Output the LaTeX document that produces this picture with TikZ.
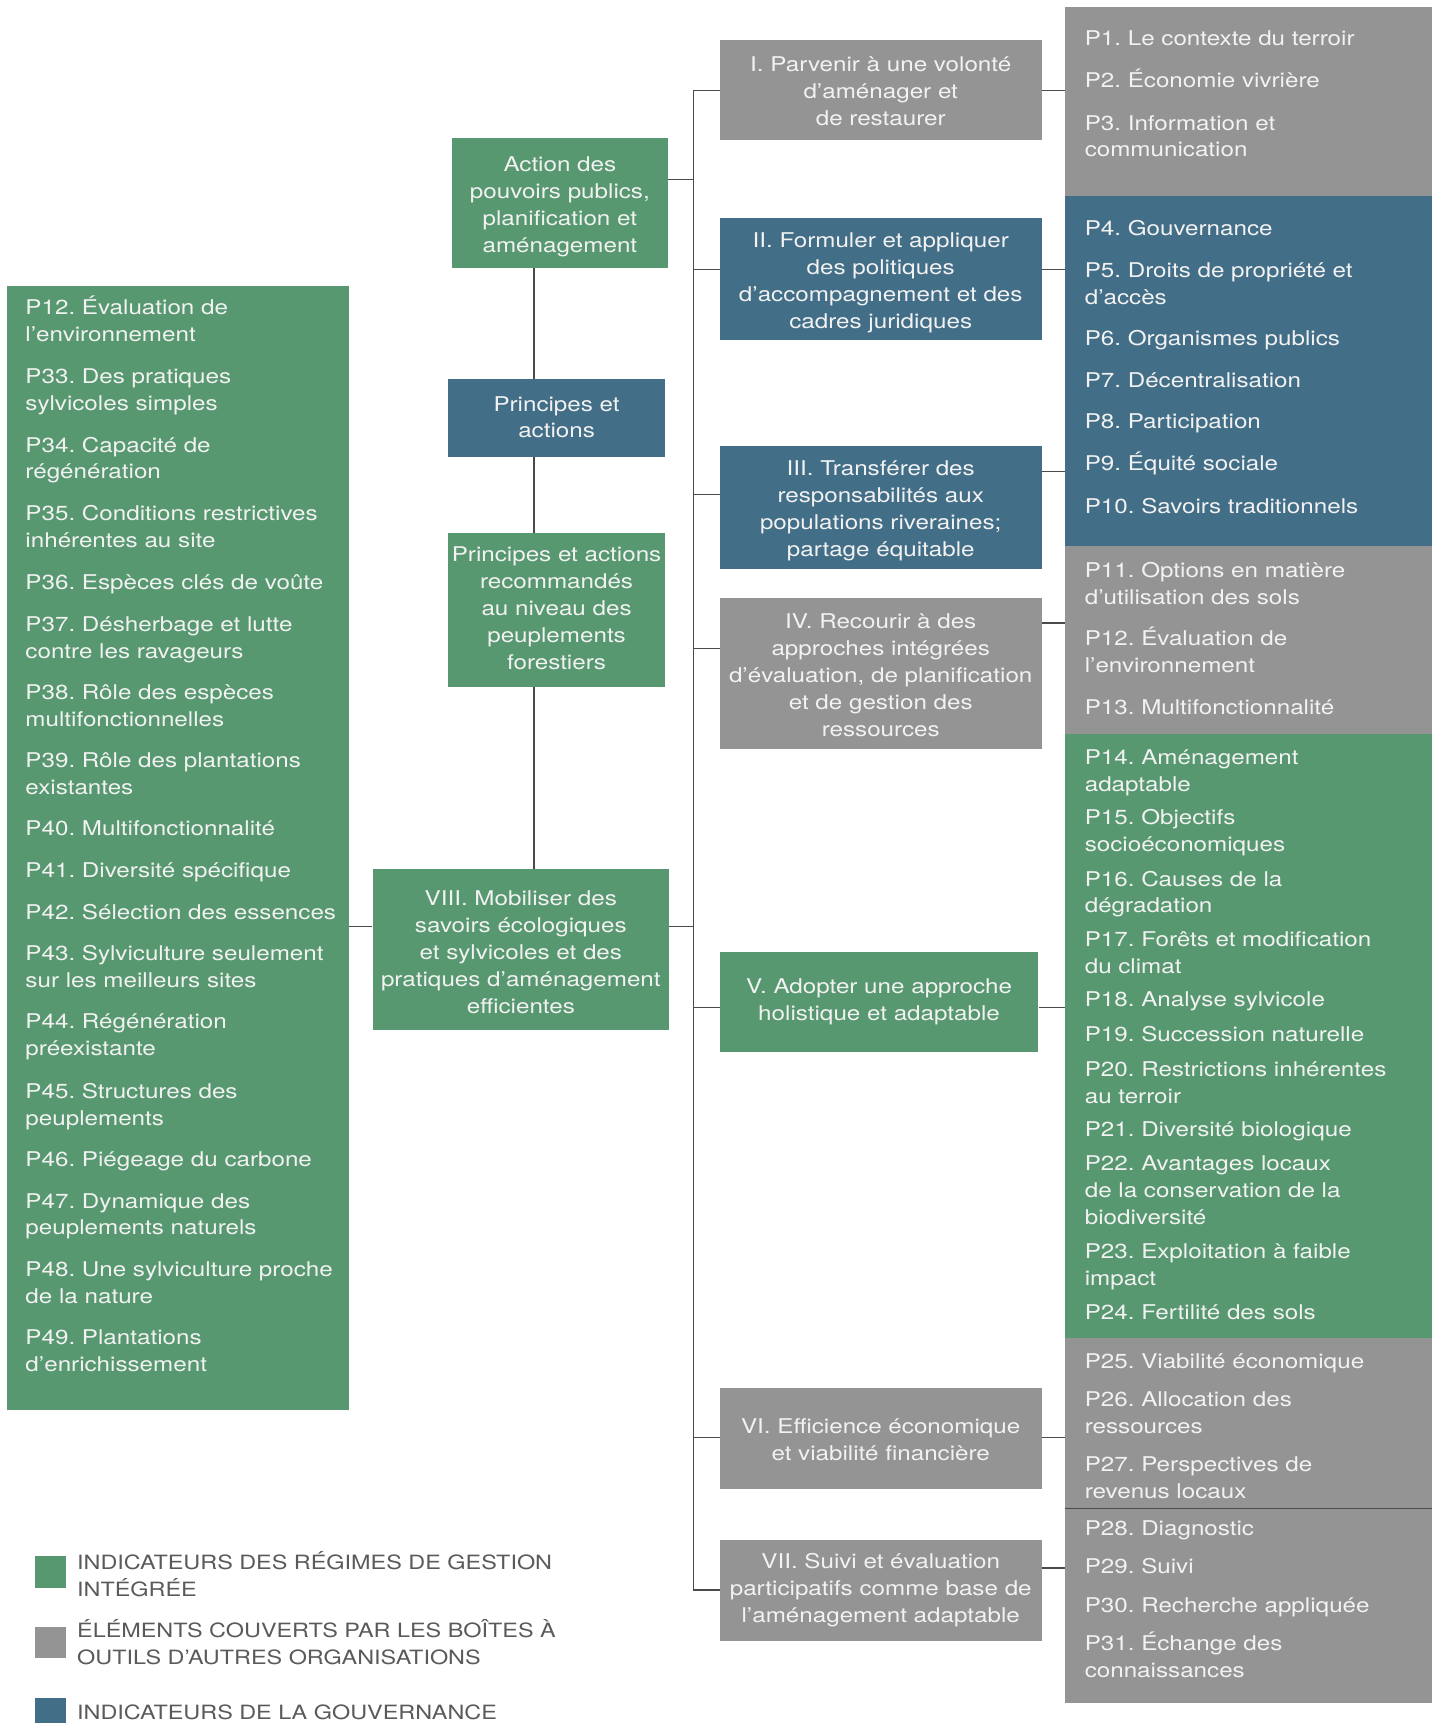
\documentclass[tikz,border=0pt]{standalone}
\usepackage{fontspec}
\setmainfont{TeX Gyre Heros}[FakeStretch=1.19]
\newcommand{\myfs}{\fontsize{18.5}{24.5}\selectfont\frenchspacing}
\newcommand{\mylegfs}{\fontsize{17.9}{24.5}\selectfont\frenchspacing}
\newcommand{\tstrut}{\rule{0pt}{23pt}}
\definecolor{cgreen}{HTML}{579870}
\definecolor{cblue}{HTML}{436E87}
\definecolor{cgray}{HTML}{949494}
\definecolor{txt}{HTML}{F2F2F2}
\definecolor{legtxt}{HTML}{5A5A5A}
\definecolor{linec}{HTML}{4A4A4A}
\begin{document}
\begin{tikzpicture}[x=1pt,y=-1pt,
  mbox/.style={rectangle, inner sep=0pt, align=center, text=txt, font=\myfs},
  region/.style={rectangle, inner sep=0pt, anchor=north west},
  itm/.style={anchor=north west, yshift=11pt, inner sep=0pt, align=left, text=txt, font=\myfs},
  legbox/.style={rectangle, inner sep=0pt, anchor=north west, minimum width=28pt, minimum height=29pt},
  legtext/.style={anchor=north west, yshift=11pt, inner sep=0pt, align=left, text=legtxt, font=\mylegfs},
  conn/.style={draw=linec, line width=1.1pt}]
\useasboundingbox (0,0) rectangle (1303,1568);

% ---------- right column regions ----------
\node[region, fill=cgray,  minimum width=334pt, minimum height=172pt] (g1)  at (969,6) {};
\node[region, fill=cblue,  minimum width=334pt, minimum height=319pt] (b1)  at (969,178) {};
\node[region, fill=cgray,  minimum width=334pt, minimum height=171pt] (g2)  at (969,497) {};
\node[region, fill=cgreen, minimum width=334pt, minimum height=549pt] (gr1) at (969,668) {};
\node[region, fill=cgray,  minimum width=334pt, minimum height=156pt] (g3)  at (969,1217) {};
\node[region, fill=cgray,  minimum width=334pt, minimum height=177pt] (g4)  at (969,1373) {};
\draw[draw=linec, line width=1pt] (g4.north west) -- (g4.north east);

% right items
\node[itm] (p1)  at (987,35)   {\strut P1. Le contexte du terroir};
\node[itm] (p2)  at (987,73)   {\strut P2. Économie vivrière};
\node[itm] (p3)  at (987,112)  {\strut P3. Information et\\communication};
\node[itm] (p4)  at (987,208)  {\strut P4. Gouvernance};
\node[itm] (p5)  at (987,246)  {\strut P5. Droits de propriété et\\d’accès};
\node[itm] (p6)  at (987,308)  {\strut P6. Organismes publics};
\node[itm] (p7)  at (987,346)  {\strut P7. Décentralisation};
\node[itm] (p8)  at (987,384)  {\strut P8. Participation};
\node[itm] (p9)  at (987,422)  {\strut P9. Équité sociale};
\node[itm] (p10) at (987,461)  {\strut P10. Savoirs traditionnels};
\node[itm] (p11) at (987,519)  {\strut P11. Options en matière\\d’utilisation des sols};
\node[itm] (p12) at (987,581)  {\strut P12. Évaluation de\\l’environnement};
\node[itm] (p13) at (987,644)  {\strut P13. Multifonctionnalité};
\node[itm] (p14) at (987,689)  {\strut P14. Aménagement\\adaptable};
\node[itm] (p15) at (987,744)  {\strut P15. Objectifs\\socioéconomiques};
\node[itm] (p16) at (987,800)  {\strut P16. Causes de la\\dégradation};
\node[itm] (p17) at (987,855)  {\strut P17. Forêts et modification\\du climat};
\node[itm] (p18) at (987,910)  {\strut P18. Analyse sylvicole};
\node[itm] (p19) at (987,941)  {\strut P19. Succession naturelle};
\node[itm] (p20) at (987,973)  {\strut P20. Restrictions inhérentes\\au terroir};
\node[itm] (p21) at (987,1028) {\strut P21. Diversité biologique};
\node[itm] (p22) at (987,1059) {\strut P22. Avantages locaux\\de la conservation de la\\biodiversité};
\node[itm] (p23) at (987,1139) {\strut P23. Exploitation à faible\\impact};
\node[itm] (p24) at (987,1194) {\strut P24. Fertilité des sols};
\node[itm] (p25) at (987,1239) {\strut P25. Viabilité économique};
\node[itm] (p26) at (987,1274) {\strut P26. Allocation des\\ressources};
\node[itm] (p27) at (987,1333) {\strut P27. Perspectives de\\revenus locaux};
\node[itm] (p28) at (987,1391) {\strut P28. Diagnostic};
\node[itm] (p29) at (987,1426) {\strut P29. Suivi};
\node[itm] (p30) at (987,1461) {\strut P30. Recherche appliquée};
\node[itm] (p31) at (987,1496) {\strut P31. Échange des\\connaissances};

% ---------- left green column ----------
\node[region, fill=cgreen, minimum width=311pt, minimum height=1023pt] (lg) at (6,260) {};
\node[itm] (q12) at (23,280)  {\strut P12. Évaluation de\\l’environnement};
\node[itm] (q33) at (23,343)  {\strut P33. Des pratiques\\sylvicoles simples};
\node[itm] (q34) at (23,405)  {\strut P34. Capacité de\\régénération};
\node[itm] (q35) at (23,467)  {\strut P35. Conditions restrictives\\inhérentes au site};
\node[itm] (q36) at (23,530)  {\strut P36. Espèces clés de voûte};
\node[itm] (q37) at (23,568)  {\strut P37. Désherbage et lutte\\contre les ravageurs};
\node[itm] (q38) at (23,630)  {\strut P38. Rôle des espèces\\multifonctionnelles};
\node[itm] (q39) at (23,692)  {\strut P39. Rôle des plantations\\existantes};
\node[itm] (q40) at (23,754)  {\strut P40. Multifonctionnalité};
\node[itm] (q41) at (23,792)  {\strut P41. Diversité spécifique};
\node[itm] (q42) at (23,830)  {\strut P42. Sélection des essences};
\node[itm] (q43) at (23,868)  {\strut P43. Sylviculture seulement\\sur les meilleurs sites};
\node[itm] (q44) at (23,930)  {\strut P44. Régénération\\préexistante};
\node[itm] (q45) at (23,993)  {\strut P45. Structures des\\peuplements};
\node[itm] (q46) at (23,1055) {\strut P46. Piégeage du carbone};
\node[itm] (q47) at (23,1093) {\strut P47. Dynamique des\\peuplements naturels};
\node[itm] (q48) at (23,1155) {\strut P48. Une sylviculture proche\\de la nature};
\node[itm] (q49) at (23,1217) {\strut P49. Plantations\\d’enrichissement};

% ---------- middle column boxes ----------
\node[mbox, fill=cgray, minimum width=293pt, minimum height=91pt] (nI) at (801.5,81.5)
  {\tstrut I. Parvenir à une volonté\\d’aménager et\\de restaurer\strut};
\node[mbox, fill=cblue, minimum width=293pt, minimum height=111pt] (nII) at (801.5,253.5)
  {\rule{0pt}{25pt}II. Formuler et appliquer\\des politiques\\d’accompagnement et des\\cadres juridiques\strut};
\node[mbox, fill=cblue, minimum width=293pt, minimum height=112pt] (nIII) at (801.5,462)
  {\tstrut III. Transférer des\\responsabilités aux\\populations riveraines;\\partage équitable\strut};
\node[mbox, fill=cgray, minimum width=293pt, minimum height=138pt] (nIV) at (801.5,613)
  {\tstrut IV. Recourir à des\\approches intégrées\\d’évaluation, de planification\\et de gestion des\\ressources\strut};
\node[mbox, fill=cgreen, minimum width=290pt, minimum height=91pt] (nV) at (800,911.5)
  {\strut V. Adopter une approche\\holistique et adaptable\strut};
\node[mbox, fill=cgray, minimum width=293pt, minimum height=92pt] (nVI) at (801.5,1309)
  {\tstrut VI. Efficience économique\\et viabilité financière\strut};
\node[mbox, fill=cgray, minimum width=293pt, minimum height=92pt] (nVII) at (801.5,1447)
  {\strut VII. Suivi et évaluation\\participatifs comme base de\\l’aménagement adaptable\strut};

% ---------- left tree boxes ----------
\node[mbox, fill=cgreen, minimum width=197pt, minimum height=118pt] (nA) at (509.5,185)
  {\tstrut Action des\\pouvoirs publics,\\planification et\\aménagement\strut};
\node[mbox, fill=cblue, minimum width=197pt, minimum height=71pt] (nP) at (506.5,380.5)
  {\rule{0pt}{19pt}Principes et\\actions\strut};
\node[mbox, fill=cgreen, minimum width=197pt, minimum height=140pt] (nR) at (506.5,555)
  {\strut Principes et actions\\recommandés\\au niveau des\\peuplements\\forestiers\strut};
\node[mbox, fill=cgreen, minimum width=270pt, minimum height=146pt] (nVIII) at (474,864)
  {\rule{0pt}{26pt}VIII. Mobiliser des\\savoirs écologiques\\et sylvicoles et des\\pratiques d’aménagement\\efficientes\strut};

% ---------- connectors ----------
\coordinate (vx) at (486,0);
\draw[conn] (nA.south -| vx) -- (nP.north -| vx);
\draw[conn] (nP.south -| vx) -- (nR.north -| vx);
\draw[conn] (nR.south -| vx) -- (nVIII.north -| vx);

\coordinate (t1) at (631,82);
\coordinate (tA) at (631,163);
\coordinate (t2) at (631,245);
\coordinate (t3) at (631,450);
\coordinate (t4) at (631,590);
\coordinate (t8) at (631,843);
\coordinate (t5) at (631,917);
\coordinate (t6) at (631,1308);
\coordinate (t7) at (631,1447);
\draw[conn] (t1) -- (t7);
\draw[conn] (t1) -- (t1 -| nI.west);
\draw[conn] (tA -| nA.east) -- (tA);
\draw[conn] (t2) -- (t2 -| nII.west);
\draw[conn] (t3) -- (t3 -| nIII.west);
\draw[conn] (t4) -- (t4 -| nIV.west);
\draw[conn] (t8 -| nVIII.east) -- (t8);
\draw[conn] (t5) -- (t5 -| nV.west);
\draw[conn] (t6) -- (t6 -| nVI.west);
\draw[conn] (t7) -- (t7 -| nVII.west);
\draw[conn] (t8 -| lg.east) -- (t8 -| nVIII.west);

\coordinate (s1) at (960,82);
\coordinate (s2) at (960,245);
\coordinate (s3) at (960,429);
\coordinate (s4) at (960,567);
\coordinate (s5) at (960,917);
\coordinate (s6) at (960,1308);
\coordinate (s7) at (960,1427);
\draw[conn] (s1 -| nI.east) -- (s1 -| g1.west);
\draw[conn] (s2 -| nII.east) -- (s2 -| b1.west);
\draw[conn] (s3 -| nIII.east) -- (s3 -| b1.west);
\draw[conn] (s4 -| nIV.east) -- (s4 -| g2.west);
\draw[conn] (s5 -| nV.east) -- (s5 -| gr1.west);
\draw[conn] (s6 -| nVI.east) -- (s6 -| g3.west);
\draw[conn] (s7 -| nVII.east) -- (s7 -| g4.west);

% ---------- legend ----------
\node[legbox, fill=cgreen] (lk1) at (32,1416) {};
\node[legbox, fill=cgray]  (lk2) at (32,1480) {};
\node[legbox, fill=cblue]  (lk3) at (32,1545) {};
\node[legtext] (lt1) at (70,1422) {\strut INDICATEURS DES RÉGIMES DE GESTION\\INTÉGRÉE};
\node[legtext] (lt2) at (70,1484) {\strut ÉLÉMENTS COUVERTS PAR LES BOÎTES À\\OUTILS D’AUTRES ORGANISATIONS};
\node[legtext] (lt3) at (70,1558) {\strut INDICATEURS DE LA GOUVERNANCE};
\end{tikzpicture}
\end{document}
